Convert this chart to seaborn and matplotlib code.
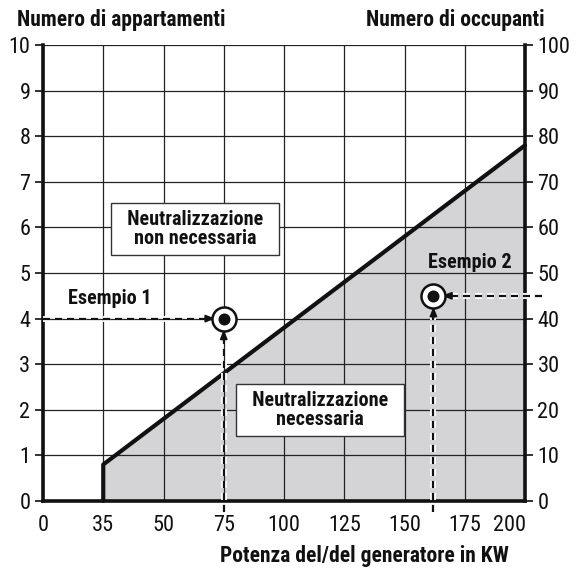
import os
import numpy as np
import pandas as pd
import matplotlib
matplotlib.use("Agg")
import matplotlib.pyplot as plt
import matplotlib.patheffects as pe
import matplotlib.transforms as mtransforms
import seaborn as sns
from matplotlib import font_manager
from matplotlib.font_manager import FontProperties

# --- data -------------------------------------------------------------
kw_ticks = [0, 35, 50, 75, 100, 125, 150, 175, 200]
apt_ticks = list(range(0, 11))
occ_ticks = list(range(0, 101, 10))

boundary_kw = [35, 35, 200]
boundary_apt = [0, 0.8, 7.8]

example_names = ["Esempio 1", "Esempio 2"]
example_kw = [75, 162]
example_apt = [4.0, 4.5]

# --- fonts: prefer a condensed sans face -------------------------------
sns.set_style("white")


def _is_bold(entry):
    w = entry.weight
    if isinstance(w, str):
        return w in ("bold", "heavy", "black", "semibold", "demibold", "extra bold")
    return w >= 600


def find_face(bold):
    keys = ["liberationsansnarrow", "robotocondensed", "opensanscondensed",
            "opensans_condensed", "opensans-condensed", "notosans-condensed",
            "notosanscondensed", "dejavusanscondensed", "condensed", "narrow"]
    entries = font_manager.fontManager.ttflist
    for key in keys:
        for e in entries:
            base = os.path.basename(e.fname).lower().replace(" ", "")
            if key in base and _is_bold(e) == bold and e.style == "normal":
                if bold and e.weight not in (700, "bold") and not base.endswith("bold.ttf"):
                    continue
                return e.fname
    return None


reg_path = find_face(False)
bold_path = find_face(True)
if reg_path and bold_path:
    F_TICK = FontProperties(fname=reg_path, size=16)
    F_BOX = FontProperties(fname=bold_path, size=14.5)
    F_TITLE = FontProperties(fname=bold_path, size=15.5)
else:
    F_TICK = FontProperties(family=["Roboto", "DejaVu Sans"], size=13)
    F_BOX = FontProperties(family=["Roboto", "DejaVu Sans"], weight="bold", size=12.5)
    F_TITLE = FontProperties(family=["Roboto", "DejaVu Sans"], weight="bold", size=13)

# Evenly spaced, non-linear kW axis (piecewise linear between tick values)
pos = np.arange(len(kw_ticks), dtype=float)
kw_arr = np.array(kw_ticks, dtype=float)


def kw_to_pos(x):
    x = np.asarray(x, dtype=float)
    p = np.interp(x, kw_arr, pos)
    p = np.where(x > kw_arr[-1], pos[-1] + (x - kw_arr[-1]) / 25.0, p)
    p = np.where(x < kw_arr[0], x / 35.0, p)
    return p


def pos_to_kw(p):
    p = np.asarray(p, dtype=float)
    x = np.interp(p, pos, kw_arr)
    x = np.where(p > pos[-1], kw_arr[-1] + (p - pos[-1]) * 25.0, x)
    x = np.where(p < pos[0], p * 35.0, x)
    return x


INK = "#111111"
fig = plt.figure(figsize=(5.79, 5.71), dpi=100)
ax = fig.add_axes([43 / 579, 70 / 571, 482 / 579, 456 / 571])
ax.set_xscale("function", functions=(kw_to_pos, pos_to_kw))
ax.set_xlim(0, 200)
ax.set_ylim(0, 10)

ax.set_xticks(kw_ticks)
ax.set_yticks(apt_ticks)
ax.set_xticklabels([str(v) for v in kw_ticks])
ax.set_yticklabels([str(v) for v in apt_ticks])
ax.xaxis.set_minor_locator(matplotlib.ticker.NullLocator())
for t in ax.get_xticklabels() + ax.get_yticklabels():
    t.set_fontproperties(F_TICK)
ax.grid(True, color="#222222", linewidth=0.9, zorder=1)
ax.set_axisbelow(True)

# shaded region below the boundary
df = pd.DataFrame({"kw": boundary_kw, "apt": boundary_apt})
ax.fill_between(df["kw"], 0, df["apt"], color="#d4d4d6", zorder=0.5, linewidth=0)
sns.lineplot(data=df, x="kw", y="apt", sort=False, estimator=None, color=INK,
             linewidth=3, ax=ax, zorder=4, clip_on=False)
ax.set_xlabel("")
ax.set_ylabel("")

for side in ["left", "right", "bottom"]:
    ax.spines[side].set_linewidth(2.6)
    ax.spines[side].set_color(INK)
    ax.spines[side].set_zorder(6)
ax.spines["top"].set_visible(False)
ax.tick_params(axis="both", direction="out", length=6, width=1.2,
               color=INK, pad=3, labelcolor=INK)
ax.tick_params(axis="x", pad=4)
# nudge the last kW label left, clear of the right scale
lab = ax.get_xticklabels()[-1]
lab.set_transform(lab.get_transform() + mtransforms.ScaledTranslation(-15 / 100, 0, fig.dpi_scale_trans))

# right-hand scale: occupants
ax2 = ax.twinx()
ax2.set_ylim(0, 100)
ax2.set_yticks(occ_ticks)
ax2.set_yticklabels([str(v) for v in occ_ticks])
for t in ax2.get_yticklabels():
    t.set_fontproperties(F_TICK)
ax2.tick_params(axis="y", direction="out", length=6, width=1.2, color=INK,
                pad=3, labelcolor=INK)
for s in ax2.spines.values():
    s.set_visible(False)
ax2.grid(False)

# dashed guide lines with a white casing
dash_kw = dict(color=INK, linewidth=1.6, linestyle=(0, (3.2, 2.2)), zorder=7,
               clip_on=False,
               path_effects=[pe.Stroke(linewidth=4.2, foreground="white"), pe.Normal()])

y_start = -0.25
# example 1: from the left axis and from below
ax.plot([0, example_kw[0] - 4.2], [example_apt[0], example_apt[0]], **dash_kw)
ax.plot([example_kw[0], example_kw[0]], [y_start, example_apt[0] - 0.32], **dash_kw)
# example 2: from beyond the right axis and from below
ax.plot([207, example_kw[1] + 4.2], [example_apt[1], example_apt[1]], **dash_kw)
ax.plot([example_kw[1], example_kw[1]], [y_start, example_apt[1] - 0.32], **dash_kw)

head = dict(arrowstyle="-|>,head_length=0.55,head_width=0.22", color=INK,
            linewidth=1.2, shrinkA=0, shrinkB=0)
ax.annotate("", xy=(example_kw[0] - 3.6, example_apt[0]),
            xytext=(example_kw[0] - 6, example_apt[0]), arrowprops=head, zorder=8)
ax.annotate("", xy=(example_kw[0], example_apt[0] - 0.24),
            xytext=(example_kw[0], example_apt[0] - 0.5), arrowprops=head, zorder=8)
ax.annotate("", xy=(example_kw[1] + 3.6, example_apt[1]),
            xytext=(example_kw[1] + 6, example_apt[1]), arrowprops=head, zorder=8)
ax.annotate("", xy=(example_kw[1], example_apt[1] - 0.24),
            xytext=(example_kw[1], example_apt[1] - 0.5), arrowprops=head, zorder=8)

# example markers: ringed dot
ex = pd.DataFrame({"kw": example_kw, "apt": example_apt, "name": example_names})
sns.scatterplot(data=ex, x="kw", y="apt", s=300, color="white", edgecolor=INK,
                linewidth=1.8, ax=ax, zorder=9, legend=False)
sns.scatterplot(data=ex, x="kw", y="apt", s=75, color=INK, edgecolor=INK,
                linewidth=0, ax=ax, zorder=10, legend=False)
ax.set_xlabel("")
ax.set_ylabel("")

ax.text(36.7, 4.45, example_names[0], fontproperties=F_BOX, ha="center",
        va="center", color=INK, zorder=8)
ax.text(177, 5.24, example_names[1], fontproperties=F_BOX, ha="center",
        va="center", color=INK, zorder=8)

box = dict(boxstyle="square,pad=0.35", facecolor="white", edgecolor="#333333", linewidth=1.0)
ax.text(63, 5.96, "  Neutralizzazione  \nnon necessaria", fontproperties=F_BOX,
        ha="center", va="center", linespacing=1.0, bbox=box, color=INK, zorder=8)
ax.text(115, 2.0, "  Neutralizzazione  \nnecessaria", fontproperties=F_BOX,
        ha="center", va="center", linespacing=1.0, bbox=box, color=INK, zorder=8)

# axis titles
fig.text(17 / 579, 1 - 20 / 571, "Numero di appartamenti", fontproperties=F_TITLE,
         ha="left", va="center", color=INK)
fig.text(545 / 579, 1 - 20 / 571, "Numero di occupanti", fontproperties=F_TITLE,
         ha="right", va="center", color=INK)
fig.text(364 / 579, 1 - 556 / 571, "Potenza del/del generatore in KW",
         fontproperties=F_TITLE, ha="center", va="center", color=INK)

fig.savefig("out.png", dpi=100, facecolor="white")
